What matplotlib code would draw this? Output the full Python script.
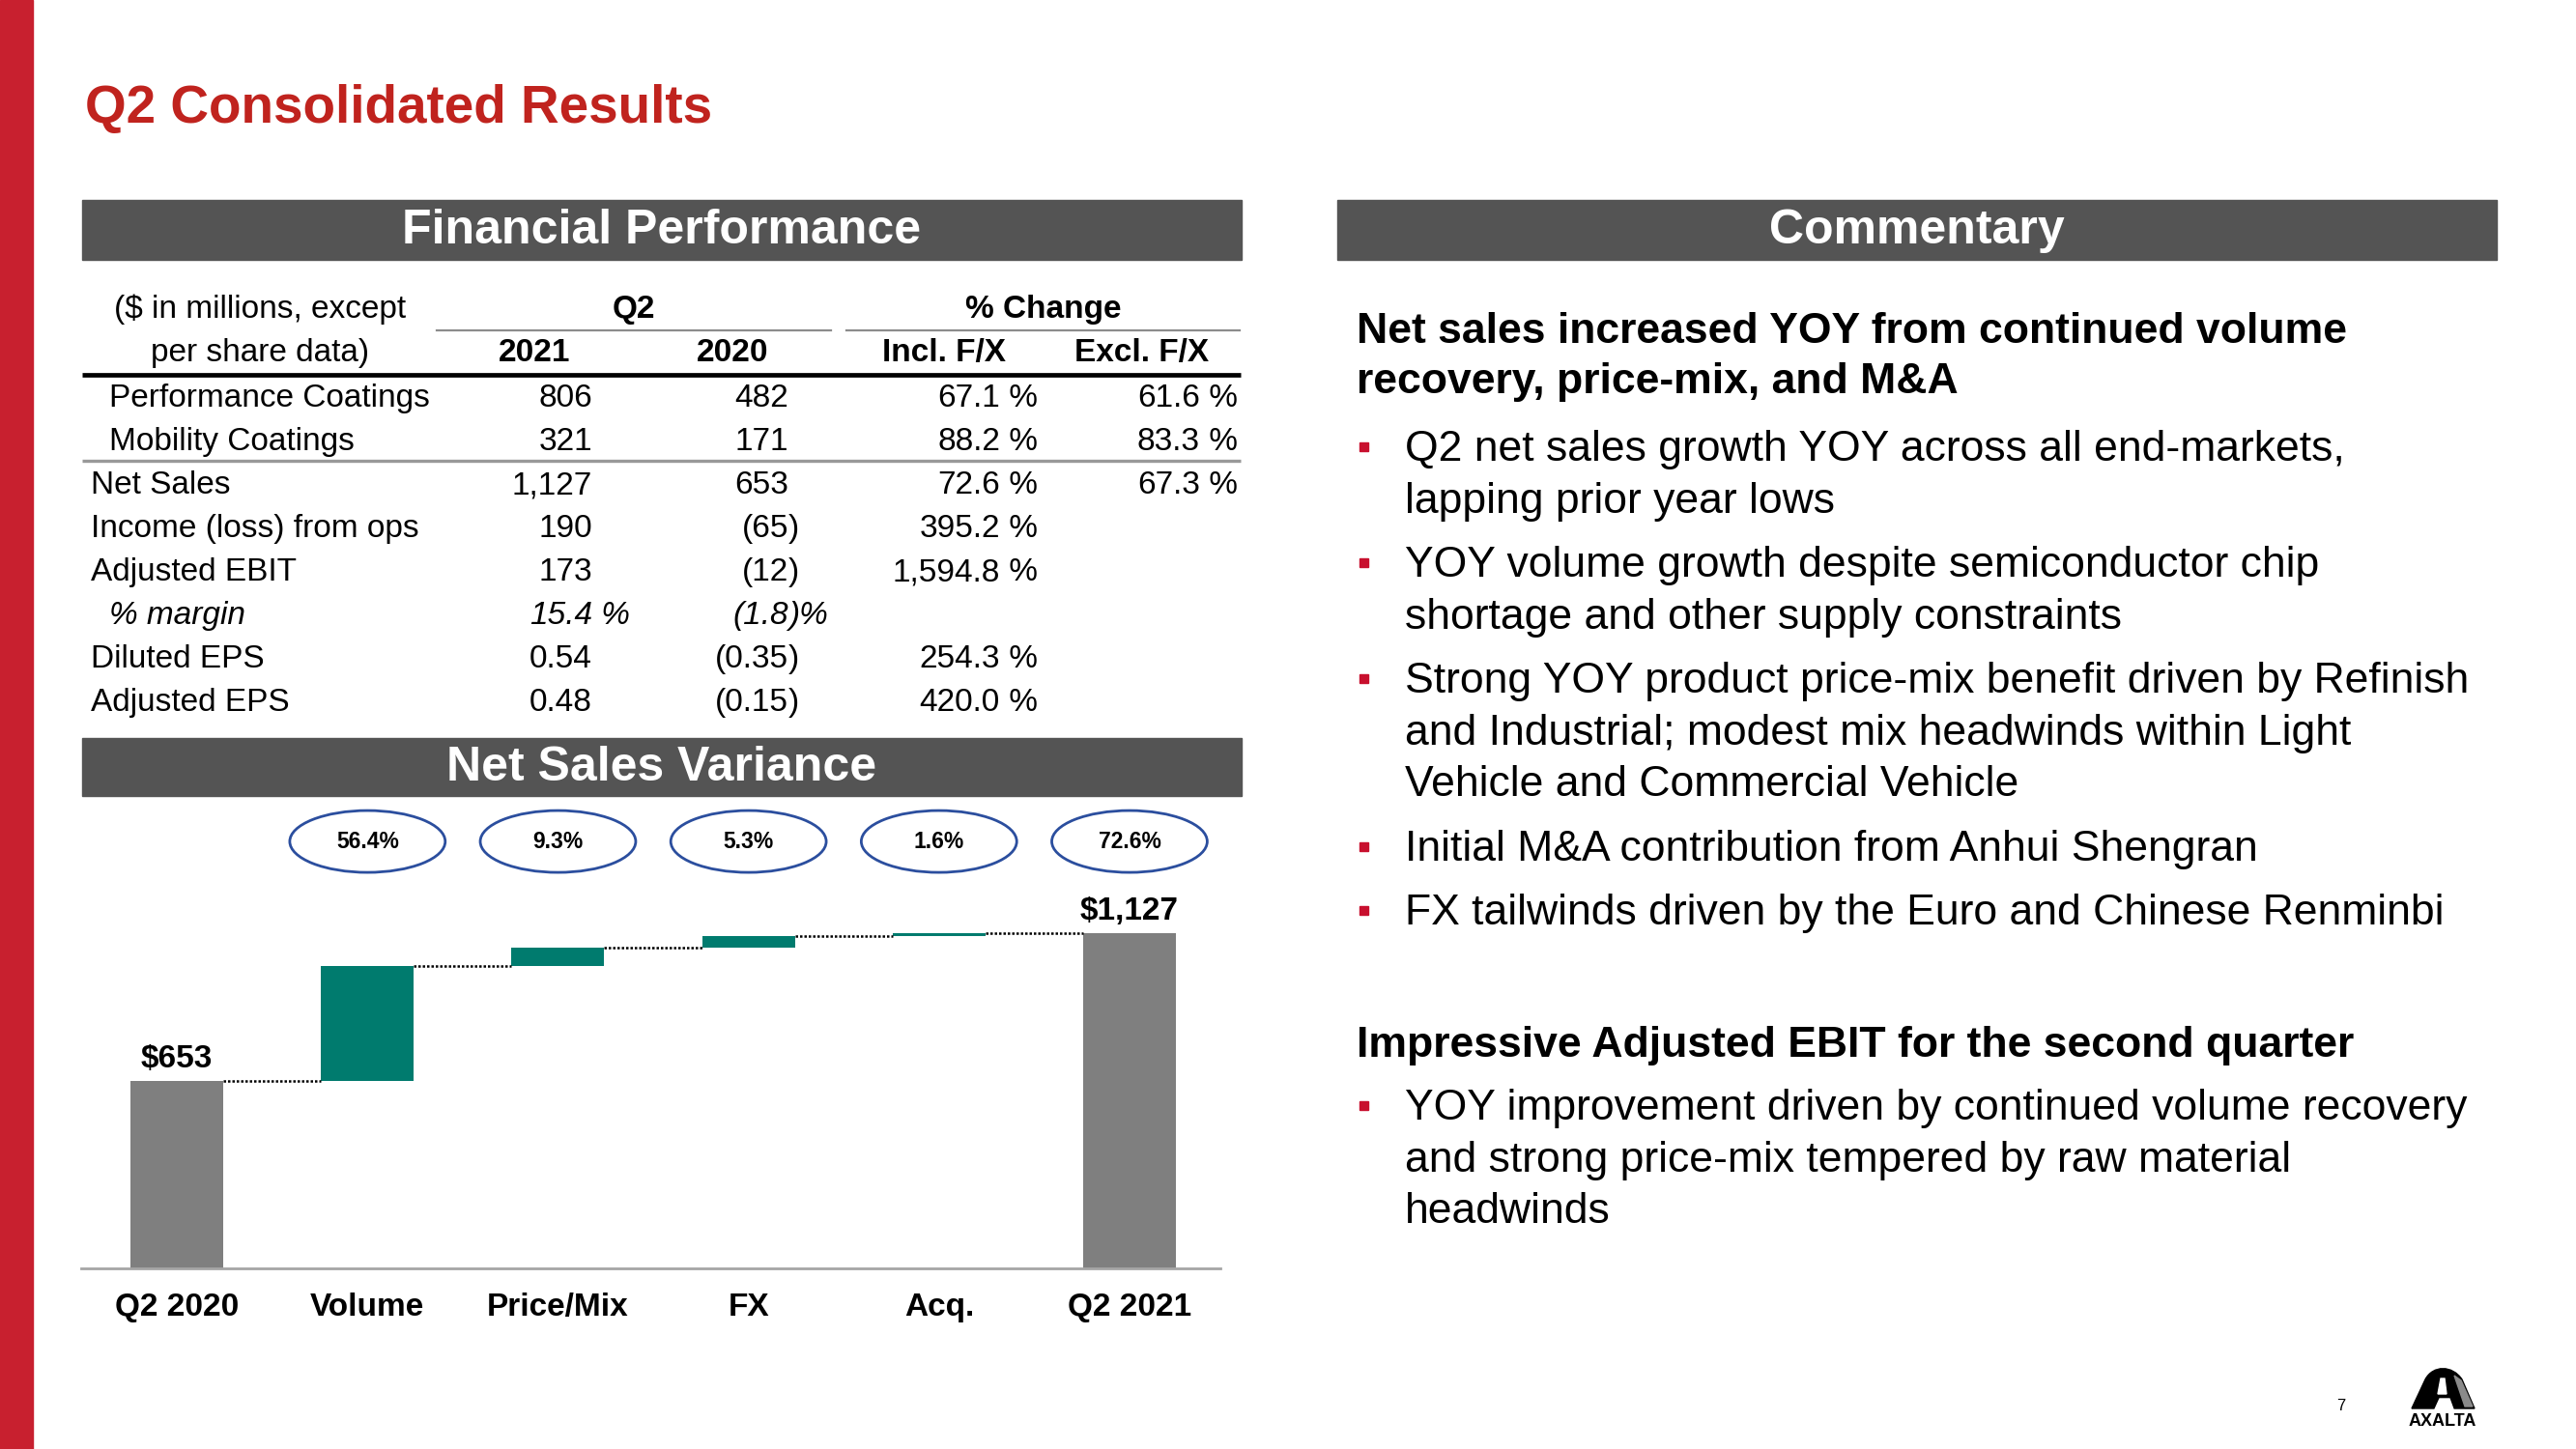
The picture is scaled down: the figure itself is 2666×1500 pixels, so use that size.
import re
import numpy as np
import matplotlib
matplotlib.use('Agg')
import matplotlib.pyplot as plt
from matplotlib.patches import Rectangle, Ellipse, PathPatch, Polygon
from matplotlib.path import Path

plt.rcParams['font.family'] = 'Liberation Sans'

# ---- data ----
row_labels = ['Performance Coatings', 'Mobility Coatings', 'Net Sales', 'Income (loss) from ops',
              'Adjusted EBIT', '% margin', 'Diluted EPS', 'Adjusted EPS']
q2_2021 = ['806', '321', '1,127', '190', '173', '15.4 %', '0.54', '0.48']
q2_2020 = ['482', '171', '653', '(65)', '(12)', '(1.8)%', '(0.35)', '(0.15)']
chg_incl = ['67.1 %', '88.2 %', '72.6 %', '395.2 %', '1,594.8 %', '', '254.3 %', '420.0 %']
chg_excl = ['61.6 %', '83.3 %', '67.3 %', '', '', '', '', '']
indented = {'Performance Coatings', 'Mobility Coatings', '% margin'}
italic_rows = {'% margin'}

wf_labels = ['Q2 2020', 'Volume', 'Price/Mix', 'FX', 'Acq.', 'Q2 2021']
wf_start = 653
wf_deltas = [368, 61, 35, 10]
wf_end = 1127
wf_pct = ['56.4%', '9.3%', '5.3%', '1.6%', '72.6%']

heading1 = ['Net sales increased YOY from continued volume', 'recovery, price-mix, and M&A']
bullets1 = [['Q2 net sales growth YOY across all end-markets,', 'lapping prior year lows'],
            ['YOY volume growth despite semiconductor chip', 'shortage and other supply constraints'],
            ['Strong YOY product price-mix benefit driven by Refinish',
             'and Industrial; modest mix headwinds within Light', 'Vehicle and Commercial Vehicle'],
            ['Initial M&A contribution from Anhui Shengran'],
            ['FX tailwinds driven by the Euro and Chinese Renminbi']]
heading2 = ['Impressive Adjusted EBIT for the second quarter']
bullets2 = [['YOY improvement driven by continued volume recovery',
             'and strong price-mix tempered by raw material', 'headwinds']]

RED = '#C0231E'
BAR = '#545454'
TEAL = '#007B6E'
GRAY = '#7F7F7F'

fig = plt.figure(figsize=(26.66, 15), dpi=100)
cv = fig.add_axes([0, 0, 1, 1])
cv.set_xlim(0, 2666)
cv.set_ylim(1500, 0)
cv.axis('off')

# side bar + title
cv.add_patch(Rectangle((0, 0), 34, 1500, color='#C8202F'))
cv.text(88, 127, 'Q2 Consolidated Results', fontsize=39.5, fontweight='bold', color=RED, va='baseline')

# header bars
for x0, y0, h, label in [(85, 207, 62, 'Financial Performance'), (1384, 207, 62, 'Commentary'),
                         (85, 764, 60, 'Net Sales Variance')]:
    cv.add_patch(Rectangle((x0, y0), 1200, h, color=BAR))
    cv.text(x0 + 600, y0 + h / 2 + 14, label, fontsize=36, fontweight='bold', color='white',
            ha='center', va='baseline')

# ---- table ----
fs = 24
cv.text(269, 329, '($ in millions, except', fontsize=fs, ha='center', va='baseline')
cv.text(269, 374, 'per share data)', fontsize=fs, ha='center', va='baseline')
cv.text(656, 329, 'Q2', fontsize=fs, fontweight='bold', ha='center', va='baseline')
cv.text(1080, 329, '% Change', fontsize=fs, fontweight='bold', ha='center', va='baseline')
for xc, t in [(553, '2021'), (758, '2020'), (977, 'Incl. F/X'), (1182, 'Excl. F/X')]:
    cv.text(xc, 374, t, fontsize=fs, fontweight='bold', ha='center', va='baseline')
cv.plot([452, 860], [342, 342], color='#8C8C8C', lw=1.6)
cv.plot([876, 1283], [342, 342], color='#8C8C8C', lw=1.6)
cv.plot([85, 1284], [388, 388], color='black', lw=3.4, solid_capstyle='butt')
cv.plot([85, 1284], [477, 477], color='#999999', lw=2.4, solid_capstyle='butt')


def split_num(s):
    m = re.match(r'^(.*\d)(\D*)$', s)
    return m.group(1), m.group(2)


anchors = [613, 816, 1035, 1242]
columns = [q2_2021, q2_2020, chg_incl, chg_excl]
for r, lab in enumerate(row_labels):
    yb = 421 + r * 45
    style = 'italic' if lab in italic_rows else 'normal'
    lx = 113 if lab in indented else 94
    cv.text(lx, yb, lab, fontsize=fs, style=style, va='baseline')
    for ax_x, col in zip(anchors, columns):
        val = col[r]
        if not val:
            continue
        core, suf = split_num(val)
        cv.text(ax_x, yb, core, fontsize=fs, style=style, ha='right', va='baseline')
        if suf:
            cv.text(ax_x, yb, suf, fontsize=fs, style=style, ha='left', va='baseline')

# ---- commentary ----
cfs = 32


def draw_block(y, heading, bullets, gap):
    for line in heading:
        cv.text(1404, y, line, fontsize=cfs, fontweight='bold', va='baseline')
        y += 52
    y += gap
    for b in bullets:
        cv.add_patch(Rectangle((1407, y - 19), 9, 9, color='#C8102E'))
        for line in b:
            cv.text(1454, y, line, fontsize=cfs, va='baseline')
            y += 53.5
        y += 13
    return y


draw_block(355, heading1, bullets1, 18)
draw_block(1094, heading2, bullets2, 13)

# ---- waterfall ----
ax = fig.add_axes([84 / 2666, 187 / 1500, 1179 / 2666, 413 / 1500])
ax.patch.set_alpha(0)
x = np.arange(len(wf_labels))
running = np.cumsum([wf_start] + wf_deltas)
bottoms = [0] + list(running[:-1]) + [0]
heights = [wf_start] + wf_deltas + [wf_end]
colors = [GRAY] + [TEAL] * len(wf_deltas) + [GRAY]
w = 0.487
ax.bar(x, heights, bottom=bottoms, width=w, color=colors)
levels = list(running) + [wf_end]
for i in range(len(x) - 1):
    ax.plot([i + w / 2, i + 1 - w / 2], [levels[i], levels[i]], color='black',
            lw=1.8, ls=(0, (1, 0.8)))
ax.set_xlim(-0.503, 5.477)
ax.set_ylim(53, 1332)
for s in ['top', 'left', 'right']:
    ax.spines[s].set_visible(False)
ax.spines['bottom'].set_color('#A6A6A6')
ax.spines['bottom'].set_linewidth(2)
ax.set_yticks([])
ax.set_xticks(x)
ax.set_xticklabels(wf_labels, fontsize=24, fontweight='bold')
ax.tick_params(axis='x', length=0, pad=18)
for i, v in [(0, wf_start), (len(x) - 1, wf_end)]:
    ax.annotate(f'${v:,}', (i, v), xytext=(0, 10), textcoords='offset points',
                ha='center', va='baseline', fontsize=24, fontweight='bold')
trans = ax.get_xaxis_transform()
for i, p in enumerate(wf_pct):
    ax.add_patch(Ellipse((i + 1, 1.070), 0.816, 0.155, transform=trans, fill=False,
                         ec='#2B4E9E', lw=2, clip_on=False))
    ax.text(i + 1, 1.053, p, transform=trans, ha='center', va='baseline',
            fontsize=16.5, fontweight='bold')

# ---- footer: page number and logo ----
cv.text(2423, 1460, '7', fontsize=12, ha='center', va='baseline')
arch = Path([(2496, 1458), (2510, 1428), (2518, 1413), (2538, 1413), (2548, 1428),
             (2561, 1458), (2496, 1458)],
            [Path.MOVETO, Path.LINETO, Path.CURVE4, Path.CURVE4, Path.CURVE4,
             Path.LINETO, Path.CLOSEPOLY])
cv.add_patch(PathPatch(arch, color='black'))
cv.add_patch(Polygon([(2540, 1424), (2547, 1429), (2559, 1456), (2551, 1456)], color='#8A8A8A'))
cv.add_patch(Polygon([(2526, 1427), (2530, 1427), (2532, 1443), (2523, 1443)], color='white'))
cv.add_patch(Polygon([(2525, 1448), (2535, 1448), (2539, 1459), (2520, 1459)], color='white'))
cv.text(2528, 1476, 'AXALTA', fontsize=13, fontweight='heavy', ha='center', va='baseline')

fig.savefig('out.png', dpi=100)
